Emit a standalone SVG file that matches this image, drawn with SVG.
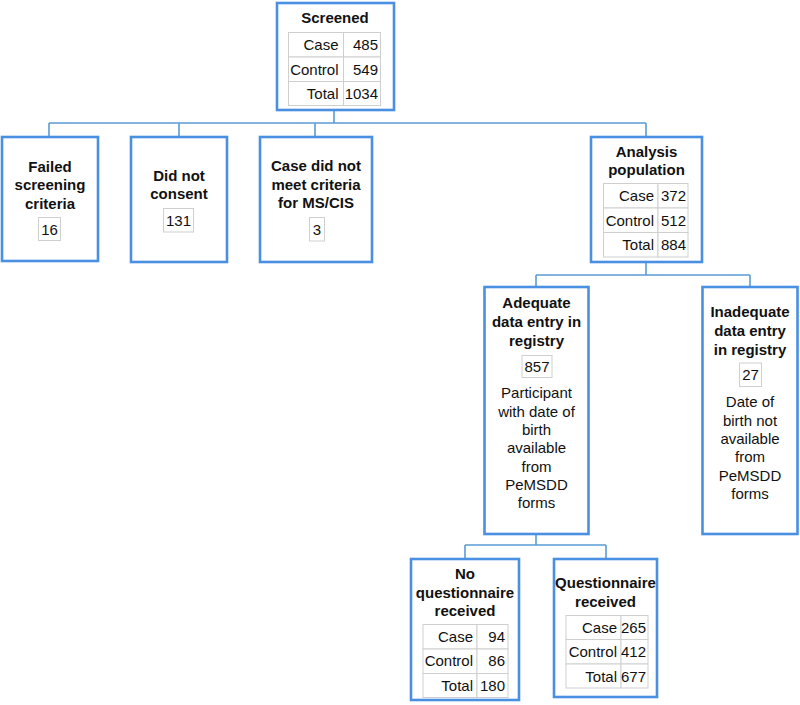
<svg xmlns="http://www.w3.org/2000/svg" width="800" height="705" viewBox="0 0 800 705">
<style>
.box{fill:#fff;stroke:#4a90e2;stroke-width:2.6}
.cell{fill:#fff;stroke:#cfcfcf;stroke-width:1}
.con{fill:none;stroke:#5b9bd5;stroke-width:1.6}
text{font-family:"Liberation Sans",Arial,sans-serif;font-size:15px;fill:#111}
.t{font-weight:bold;text-anchor:middle}
.c{text-anchor:middle}
.r{text-anchor:end}
</style>
<rect width="800" height="705" fill="#fff"/>
<g id="connectors">
<path class="con" d="M334,110 V123 M49,123 H646 M49,123 V137 M179,123 V137 M315,123 V137 M646,123 V137"/>
<path class="con" d="M646,262 V275 M536,275 H750 M536,275 V287 M750,275 V287"/>
<path class="con" d="M536,534 V545 M465,545 H606 M465,545 V559 M606,545 V559"/>
</g>
<g id="screened">
<rect class="box" x="277" y="3" width="117" height="107"/>
<text class="t" x="335" y="23">Screened</text>
<rect class="cell" x="288.5" y="32.5" width="55" height="24.5"/>
<rect class="cell" x="343.5" y="32.5" width="37" height="24.5"/>
<rect class="cell" x="288.5" y="57" width="55" height="24.5"/>
<rect class="cell" x="343.5" y="57" width="37" height="24.5"/>
<rect class="cell" x="288.5" y="81.5" width="55" height="24"/>
<rect class="cell" x="343.5" y="81.5" width="37" height="24"/>
<text class="r" x="338.5" y="50">Case</text><text class="r" x="378" y="50">485</text>
<text class="r" x="338.5" y="74.5">Control</text><text class="r" x="378" y="74.5">549</text>
<text class="r" x="338.5" y="99">Total</text><text class="r" x="378" y="99">1034</text>
</g>
<g id="failed">
<rect class="box" x="2" y="137" width="96" height="124"/>
<text class="t" x="50" y="172">Failed</text>
<text class="t" x="50" y="190">screening</text>
<text class="t" x="50" y="208.5">criteria</text>
<rect class="cell" x="38.5" y="217.5" width="22" height="23"/>
<text class="c" x="49.5" y="234.5">16</text>
</g>
<g id="noconsent">
<rect class="box" x="131" y="137" width="96" height="125"/>
<text class="t" x="179" y="180.5">Did not</text>
<text class="t" x="179" y="199">consent</text>
<rect class="cell" x="163.5" y="208.5" width="30" height="23.5"/>
<text class="c" x="178.5" y="225.5">131</text>
</g>
<g id="notcriteria">
<rect class="box" x="260" y="137" width="112" height="125"/>
<text class="t" x="316" y="171">Case did not</text>
<text class="t" x="316" y="189.5">meet criteria</text>
<text class="t" x="316" y="208">for MS/CIS</text>
<rect class="cell" x="309.5" y="217.5" width="15" height="23.5"/>
<text class="c" x="317" y="234.5">3</text>
</g>
<g id="analysis">
<rect class="box" x="591" y="137" width="111" height="125"/>
<text class="t" x="646.5" y="156.5">Analysis</text>
<text class="t" x="646.5" y="174.5">population</text>
<rect class="cell" x="603.5" y="183.5" width="54.5" height="24.5"/>
<rect class="cell" x="658" y="183.5" width="30" height="24.5"/>
<rect class="cell" x="603.5" y="208" width="54.5" height="24.5"/>
<rect class="cell" x="658" y="208" width="30" height="24.5"/>
<rect class="cell" x="603.5" y="232.5" width="54.5" height="24.5"/>
<rect class="cell" x="658" y="232.5" width="30" height="24.5"/>
<text class="r" x="654" y="201.3">Case</text><text class="r" x="686" y="201.3">372</text>
<text class="r" x="654" y="225.8">Control</text><text class="r" x="686" y="225.8">512</text>
<text class="r" x="654" y="250.2">Total</text><text class="r" x="686" y="250.2">884</text>
</g>
<g id="adequate">
<rect class="box" x="484.5" y="287" width="104" height="247"/>
<text class="t" x="536.5" y="308">Adequate</text>
<text class="t" x="536.5" y="326.8">data entry in</text>
<text class="t" x="536.5" y="345.5">registry</text>
<rect class="cell" x="522" y="355.5" width="30" height="22"/>
<text class="c" x="537" y="371.5">857</text>
<text class="c" x="536.5" y="398">Participant</text>
<text class="c" x="536.5" y="416.5">with date of</text>
<text class="c" x="536.5" y="434.8">birth</text>
<text class="c" x="536.5" y="453">available</text>
<text class="c" x="536.5" y="471.5">from</text>
<text class="c" x="536.5" y="489.8">PeMSDD</text>
<text class="c" x="536.5" y="508">forms</text>
</g>
<g id="inadequate">
<rect class="box" x="702.5" y="287" width="95" height="247"/>
<text class="t" x="750" y="317">Inadequate</text>
<text class="t" x="750" y="335.5">data entry</text>
<text class="t" x="750" y="354.5">in registry</text>
<rect class="cell" x="739.5" y="363" width="22" height="23.5"/>
<text class="c" x="750.5" y="380">27</text>
<text class="c" x="750" y="407">Date of</text>
<text class="c" x="750" y="425.5">birth not</text>
<text class="c" x="750" y="443.8">available</text>
<text class="c" x="750" y="462">from</text>
<text class="c" x="750" y="480.5">PeMSDD</text>
<text class="c" x="750" y="498.8">forms</text>
</g>
<g id="noquestionnaire">
<rect class="box" x="411" y="559" width="108" height="141"/>
<text class="t" x="465" y="578.8">No</text>
<text class="t" x="465" y="597.8">questionnaire</text>
<text class="t" x="465" y="616">received</text>
<rect class="cell" x="423" y="624.5" width="54" height="24.5"/>
<rect class="cell" x="477" y="624.5" width="31" height="24.5"/>
<rect class="cell" x="423" y="649" width="54" height="24.5"/>
<rect class="cell" x="477" y="649" width="31" height="24.5"/>
<rect class="cell" x="423" y="673.5" width="54" height="24"/>
<rect class="cell" x="477" y="673.5" width="31" height="24"/>
<text class="r" x="473" y="641.8">Case</text><text class="r" x="505" y="641.8">94</text>
<text class="r" x="473" y="666.3">Control</text><text class="r" x="505" y="666.3">86</text>
<text class="r" x="473" y="690.7">Total</text><text class="r" x="505" y="690.7">180</text>
</g>
<g id="questionnaire">
<rect class="box" x="554" y="559" width="103" height="138"/>
<text class="t" x="605.5" y="588">Questionnaire</text>
<text class="t" x="605.5" y="606.5">received</text>
<rect class="cell" x="566" y="615.5" width="55" height="24"/>
<rect class="cell" x="621" y="615.5" width="27" height="24"/>
<rect class="cell" x="566" y="639.5" width="55" height="24.5"/>
<rect class="cell" x="621" y="639.5" width="27" height="24.5"/>
<rect class="cell" x="566" y="664" width="55" height="24"/>
<rect class="cell" x="621" y="664" width="27" height="24"/>
<text class="r" x="617" y="633">Case</text><text class="r" x="646" y="633">265</text>
<text class="r" x="617" y="657.2">Control</text><text class="r" x="646" y="657.2">412</text>
<text class="r" x="617" y="681.5">Total</text><text class="r" x="646" y="681.5">677</text>
</g>
</svg>
